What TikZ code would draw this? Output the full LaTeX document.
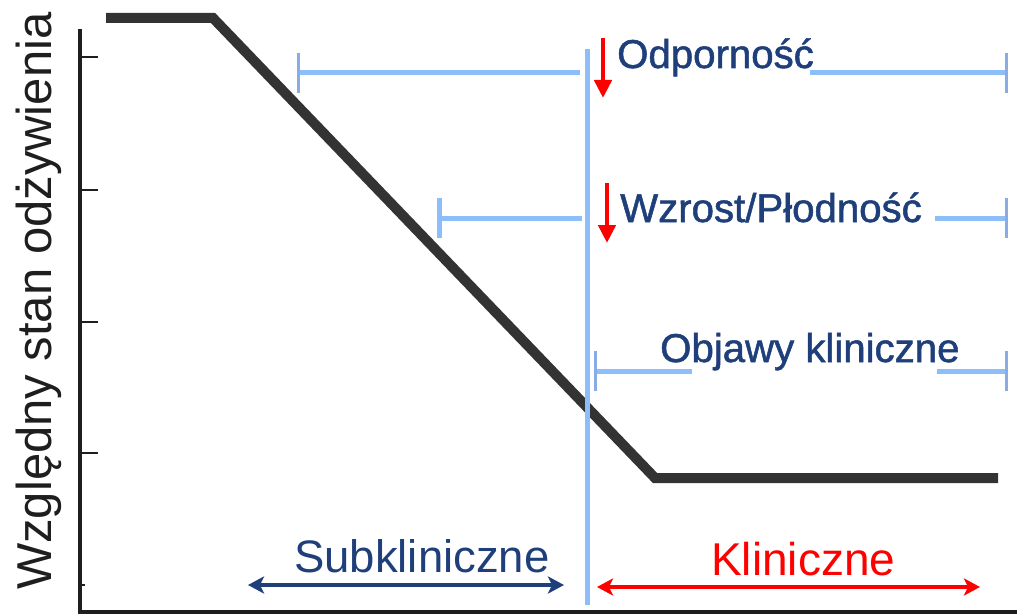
\documentclass[tikz,border=0pt]{standalone}
\usepackage{fontspec}
\setmainfont{Liberation Sans}
\newfontfamily\semibold{Liberation Sans}[FakeBold=1.3]
\usetikzlibrary{arrows.meta}
\definecolor{navy}{RGB}{31,63,122}
\definecolor{skyline}{RGB}{140,190,250}
\definecolor{capblue}{RGB}{138,172,228}
\definecolor{curvegray}{RGB}{51,51,51}
\definecolor{axisgray}{RGB}{30,30,30}
\begin{document}
\begin{tikzpicture}[x=1pt,y=-1pt,
  axisline/.style={axisgray, line width=4.8pt},
  tickline/.style={axisgray, line width=1.8pt},
  curveline/.style={curvegray, line width=10pt, line join=miter},
  bar/.style={skyline, line width=5pt},
  barcap/.style={capblue, line width=3pt},
  divider/.style={skyline, line width=5pt},
  effect/.style={navy, inner sep=0pt, anchor=base west, font=\semibold\fontsize{40.2}{40.2}\selectfont},
  drop/.style={red, line width=4.5pt, -{Triangle[length=18pt,width=17pt]}},
  phase/.style={inner sep=0pt, anchor=base west},
  span/.style={line width=4pt, {Stealth[length=16pt,width=17pt,inset=4pt]}-{Stealth[length=16pt,width=17pt,inset=4pt]}}
]
\useasboundingbox (0,0) rectangle (1017,615);

% axes
\coordinate (ytop) at (80,29);
\coordinate (origin) at (80,612);
\coordinate (xend) at (1017,612);
\draw[axisline] (ytop) -- (origin) -- (xend);
\foreach \ty in {57,190,322,453}
  \draw[tickline] (80,\ty) -- (98,\ty);
\draw[tickline] (80,585) -- (85,585);

% axis title
\node[rotate=90, anchor=base west, inner sep=0pt, axisgray,
      font=\fontsize{49}{49}\selectfont] (ytitle) at (51,590) {Względny stan odżywienia};

% nutrition curve
\coordinate (c0) at (106,18);
\coordinate (c1) at (213,18);
\coordinate (c2) at (655,478);
\coordinate (c3) at (998,478);
\draw[curveline] (c0) -- (c1) -- (c2) -- (c3);

% threshold line
\coordinate (dtop) at (587,49);
\coordinate (dbot) at (587,605);
\draw[divider] (dtop) -- (dbot);

% immunity
\node[effect] (imm) at (617,68) {Odporność};
\coordinate (imL) at (298,73);
\coordinate (imR) at (1006,73);
\draw[bar] (imL) -- (580,73);
\draw[bar] (810,73) -- (imR);
\draw[barcap] ([yshift=-20pt]imL) -- ([yshift=20pt]imL);
\draw[barcap] ([yshift=-20pt]imR) -- ([yshift=20pt]imR);
\coordinate (a1s) at (603,38);
\coordinate (a1e) at (603,98);
\draw[drop] (a1s) -- (a1e);

% growth / fertility
\node[effect] (grow) at (620,222) {Wzrost/Płodność};
\coordinate (grL) at (439,218);
\coordinate (grR) at (1006,218);
\draw[bar] (grL) -- (582,218);
\draw[bar] (935,218) -- (grR);
\draw[skyline, line width=5pt] ([yshift=-20pt]grL) -- ([yshift=20pt]grL);
\draw[barcap] ([yshift=-20pt]grR) -- ([yshift=20pt]grR);
\coordinate (a2s) at (607,183);
\coordinate (a2e) at (607,243);
\draw[drop] (a2s) -- (a2e);

% clinical signs
\node[effect] (sign) at (660,362) {Objawy kliniczne};
\coordinate (sgL) at (595,371);
\coordinate (sgR) at (1006,371);
\draw[bar] (sgL) -- (692,371);
\draw[bar] (937,371) -- (sgR);
\draw[barcap] ([yshift=-20pt]sgL) -- ([yshift=20pt]sgL);
\draw[barcap] ([yshift=-20pt]sgR) -- ([yshift=20pt]sgR);

% phases
\node[phase, navy, font=\fontsize{45.5}{45.5}\selectfont] (sub) at (294,572) {Subkliniczne};
\coordinate (subL) at (248,585);
\coordinate (subR) at (564,585);
\draw[span, navy] (subL) -- (subR);

\node[phase, red, font=\fontsize{46}{46}\selectfont] (clin) at (711,575) {Kliniczne};
\coordinate (clL) at (597,587);
\coordinate (clR) at (980,587);
\draw[span, red] (clL) -- (clR);
\end{tikzpicture}
\end{document}
